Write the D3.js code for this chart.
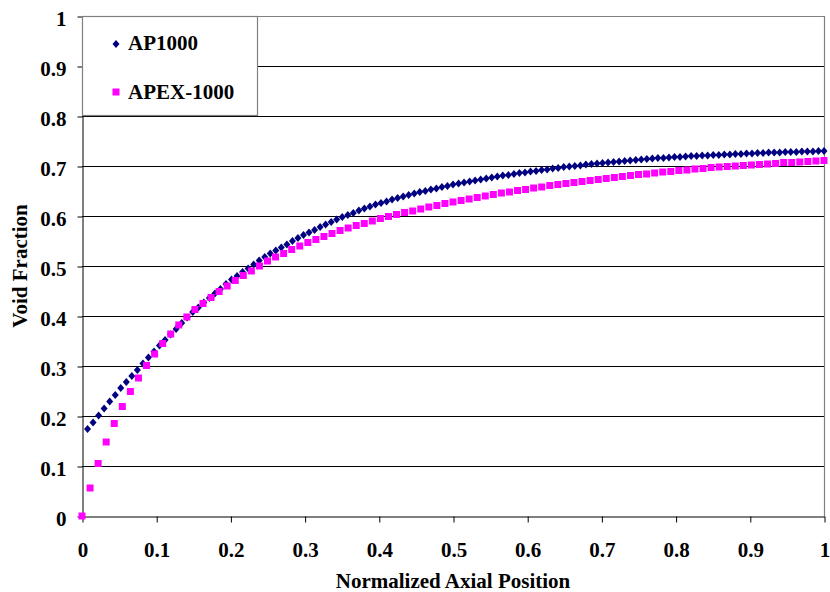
<!DOCTYPE html>
<html>
<head>
<meta charset="utf-8">
<script src="https://cdn.jsdelivr.net/npm/d3@7"></script>
<style>
  html, body { margin: 0; padding: 0; background: #fff; }
  svg text { font-family: "Liberation Serif", "Times New Roman", serif; font-weight: bold; fill: #000; }
</style>
</head>
<body>
<svg id="chart" width="830" height="592"></svg>
<script>
// ---- data ----
const xTicks = [0, 0.1, 0.2, 0.3, 0.4, 0.5, 0.6, 0.7, 0.8, 0.9, 1];
const xTickLabels = ["0", "0.1", "0.2", "0.3", "0.4", "0.5", "0.6", "0.7", "0.8", "0.9", "1"];
const yTicks = [0, 0.1, 0.2, 0.3, 0.4, 0.5, 0.6, 0.7, 0.8, 0.9, 1];
const yTickLabels = ["0", "0.1", "0.2", "0.3", "0.4", "0.5", "0.6", "0.7", "0.8", "0.9", "1"];
const seriesNames = ["AP1000", "APEX-1000"];

// AP1000: 134 nodes, normalized positions 1/134 ... 134/134
const ap1000 = [
  0.174, 0.187, 0.201, 0.215, 0.229, 0.242, 0.256, 0.268, 0.280, 0.292,
  0.305, 0.317, 0.329, 0.341, 0.352, 0.363, 0.374, 0.386, 0.397, 0.408,
  0.417, 0.427, 0.436, 0.445, 0.454, 0.464, 0.473, 0.480, 0.488, 0.495,
  0.503, 0.511, 0.518, 0.525, 0.531, 0.537, 0.543, 0.550, 0.556, 0.562,
  0.567, 0.572, 0.578, 0.583, 0.588, 0.593, 0.598, 0.602, 0.606, 0.611,
  0.615, 0.619, 0.623, 0.626, 0.629, 0.633, 0.636, 0.639, 0.642, 0.645,
  0.648, 0.650, 0.653, 0.655, 0.658, 0.660, 0.663, 0.665, 0.667, 0.669,
  0.671, 0.673, 0.675, 0.677, 0.679, 0.681, 0.682, 0.684, 0.686, 0.687,
  0.689, 0.690, 0.692, 0.693, 0.695, 0.696, 0.698, 0.699, 0.700, 0.701,
  0.703, 0.704, 0.705, 0.706, 0.707, 0.708, 0.709, 0.710, 0.711, 0.712,
  0.713, 0.714, 0.715, 0.716, 0.716, 0.717, 0.718, 0.718, 0.719, 0.720,
  0.720, 0.721, 0.721, 0.722, 0.722, 0.723, 0.723, 0.724, 0.724, 0.725,
  0.725, 0.726, 0.726, 0.727, 0.727, 0.727, 0.728, 0.728, 0.728, 0.729,
  0.729, 0.729, 0.730, 0.730
];

// APEX-1000: 93 nodes, normalized positions 0/92 ... 92/92
const apex1000 = [
  0.000, 0.056, 0.105, 0.148, 0.185, 0.219, 0.249, 0.276, 0.301, 0.324,
  0.345, 0.364, 0.382, 0.398, 0.413, 0.425, 0.437, 0.449, 0.460, 0.471,
  0.481, 0.490, 0.500, 0.510, 0.518, 0.525, 0.533, 0.540, 0.547, 0.553,
  0.559, 0.565, 0.571, 0.576, 0.581, 0.585, 0.590, 0.595, 0.599, 0.603,
  0.607, 0.610, 0.614, 0.618, 0.621, 0.625, 0.628, 0.631, 0.634, 0.637,
  0.640, 0.643, 0.646, 0.648, 0.651, 0.653, 0.656, 0.658, 0.661, 0.663,
  0.665, 0.667, 0.669, 0.671, 0.673, 0.675, 0.677, 0.679, 0.681, 0.683,
  0.684, 0.686, 0.688, 0.689, 0.691, 0.692, 0.694, 0.695, 0.697, 0.698,
  0.699, 0.700, 0.701, 0.702, 0.703, 0.704, 0.705, 0.707, 0.707, 0.708,
  0.709, 0.710, 0.711
];

const apPositions = d3.range(1, ap1000.length + 1).map(i => i / ap1000.length);
const apexPositions = d3.range(apex1000.length).map(i => i / (apex1000.length - 1));

// ---- chart ----
const svg = d3.select("#chart");
const plotL = 82, plotR = 824, plotT = 16, plotB = 516;
const x = d3.scaleLinear().domain([0, 1]).range([plotL, plotR]);
const y = d3.scaleLinear().domain([0, 1]).range([plotB, plotT]);
const fontSize = 21;

// gridlines
svg.append("g").selectAll("line").data(yTicks.filter(d => d > 0 && d < 1)).join("line")
  .attr("x1", plotL).attr("x2", plotR)
  .attr("y1", d => Math.round(y(d)) + 0.5).attr("y2", d => Math.round(y(d)) + 0.5)
  .attr("stroke", "#000").attr("stroke-width", 1);

// plot border (top & right, grey)
svg.append("path")
  .attr("d", `M${plotL},${plotT + 0.5} H${plotR + 0.5} V${plotB}`)
  .attr("fill", "none").attr("stroke", "#808080").attr("stroke-width", 1.2);

// axes
const yAxis = d3.axisLeft(y).tickValues(yTicks)
  .tickFormat((d, i) => yTickLabels[i]).tickSize(5).tickSizeOuter(0).tickPadding(11);
const gy = svg.append("g").attr("transform", `translate(${plotL + 0.5},0.5)`).call(yAxis);
gy.selectAll("text").attr("font-size", fontSize).attr("dy", "0.42em");

const xAxis = d3.axisBottom(x).tickValues(xTicks)
  .tickFormat((d, i) => xTickLabels[i]).tickSize(6).tickSizeOuter(0).tickPadding(20);
const gx = svg.append("g").attr("transform", `translate(0.5,${plotB + 0.5})`).call(xAxis);
gx.selectAll("text").attr("font-size", fontSize);

svg.selectAll(".domain").attr("stroke", "#000");
svg.selectAll(".tick line").attr("stroke", "#000");

// axis titles
svg.append("text").attr("x", (plotL + plotR) / 2).attr("y", 588)
  .attr("text-anchor", "middle").attr("font-size", fontSize).text("Normalized Axial Position");
svg.append("text").attr("transform", `translate(27,${(plotT + plotB) / 2}) rotate(-90)`)
  .attr("text-anchor", "middle").attr("font-size", fontSize).text("Void Fraction");

// series markers
const diamond = "M0,-4L3.5,0L0,4L-3.5,0Z";
svg.append("g").selectAll("path").data(ap1000).join("path")
  .attr("d", diamond)
  .attr("transform", (d, i) => `translate(${x(apPositions[i])},${y(d)})`)
  .attr("fill", "#000080");

svg.append("g").selectAll("rect").data(apex1000).join("rect")
  .attr("x", (d, i) => x(apexPositions[i]) - 3.5)
  .attr("y", d => y(d) - 3.5)
  .attr("width", 7).attr("height", 7)
  .attr("fill", "#FF00FF");

// legend
const lg = svg.append("g");
lg.append("rect").attr("x", plotL + 0.5).attr("y", plotT + 0.5).attr("width", 257 - plotL).attr("height", 99)
  .attr("fill", "#fff").attr("stroke", "#808080").attr("stroke-width", 1.2);
lg.append("path").attr("d", diamond).attr("transform", "translate(116,44)").attr("fill", "#000080");
lg.append("rect").attr("x", 112.5).attr("y", 88.5).attr("width", 7).attr("height", 7).attr("fill", "#FF00FF");
lg.append("text").attr("x", 128).attr("y", 50).attr("font-size", fontSize).text(seriesNames[0]);
lg.append("text").attr("x", 128).attr("y", 99).attr("font-size", fontSize).text(seriesNames[1]);
</script>
</body>
</html>
